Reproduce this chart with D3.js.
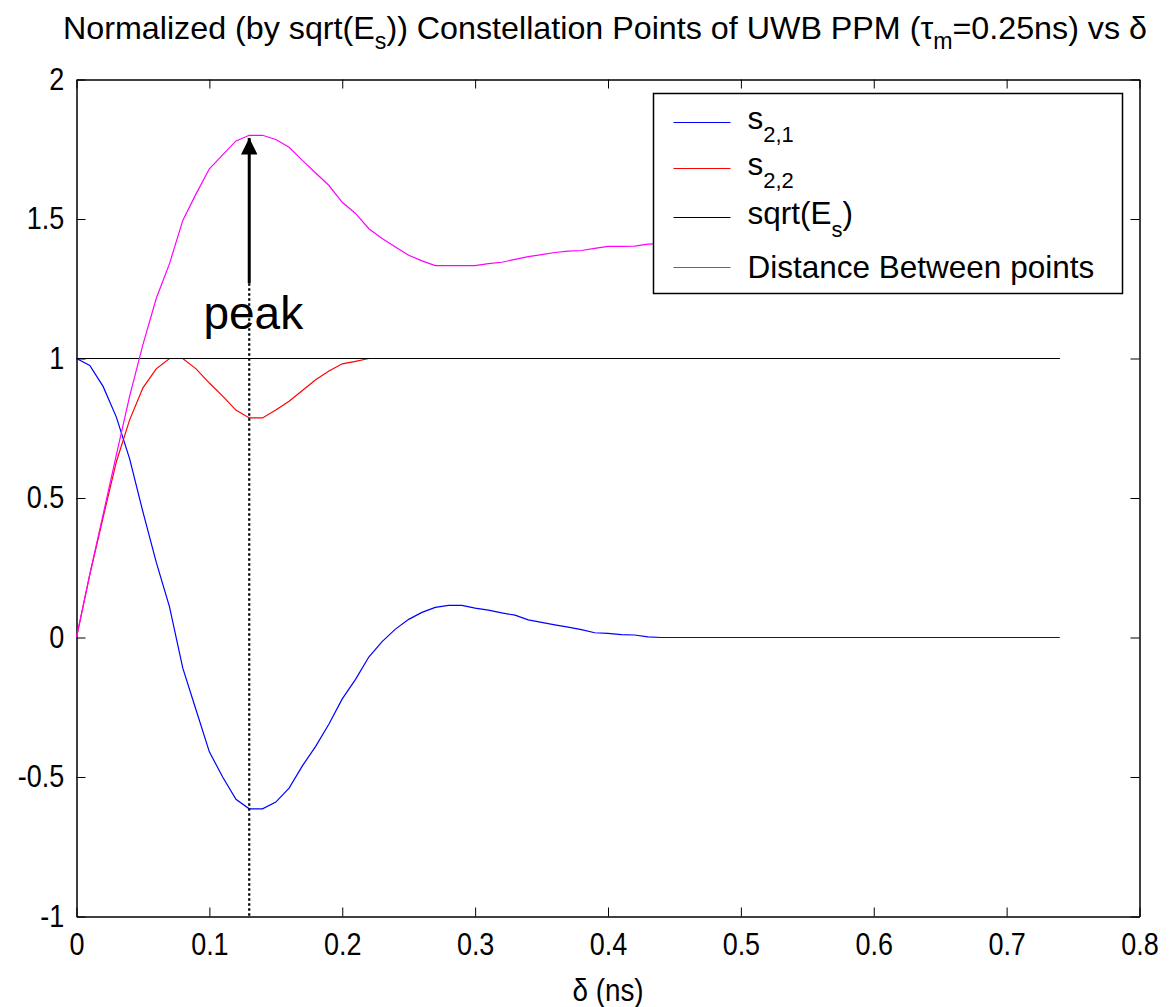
<!DOCTYPE html>
<html>
<head>
<meta charset="utf-8">
<script src="https://cdn.jsdelivr.net/npm/d3@7"></script>
<style>
  body { margin: 0; background: #fff; }
  text { font-family: "Liberation Sans", Arial, Helvetica, sans-serif; fill: #000; }
</style>
</head>
<body>
<div id="chart"></div>
<script>
// delay delta in ns, sampled every 0.01 ns
const delta = [
  0.00, 0.01, 0.02, 0.03, 0.04, 0.05, 0.06, 0.07, 0.08, 0.09,
  0.10, 0.11, 0.12, 0.13, 0.14, 0.15, 0.16, 0.17, 0.18, 0.19,
  0.20, 0.21, 0.22, 0.23, 0.24, 0.25, 0.26, 0.27, 0.28, 0.29,
  0.30, 0.31, 0.32, 0.33, 0.34, 0.35, 0.36, 0.37, 0.38, 0.39,
  0.40, 0.41, 0.42, 0.43, 0.44, 0.45, 0.46, 0.47, 0.48, 0.49,
  0.50, 0.51, 0.52, 0.53, 0.54, 0.55, 0.56, 0.57, 0.58, 0.59,
  0.60, 0.61, 0.62, 0.63, 0.64, 0.65, 0.66, 0.67, 0.68, 0.69,
  0.70, 0.71, 0.72, 0.73, 0.74
];

const s21 = [
  1.0, 0.975, 0.90, 0.79, 0.64, 0.45, 0.27, 0.11, -0.11, -0.26,
  -0.41, -0.50, -0.58, -0.614, -0.614, -0.59, -0.54, -0.46, -0.39, -0.31,
  -0.22, -0.15, -0.07, -0.015, 0.03, 0.065, 0.09, 0.108, 0.115, 0.115,
  0.105, 0.098, 0.088, 0.08, 0.063, 0.054, 0.045, 0.037, 0.028, 0.017,
  0.015, 0.01, 0.009, 0.002, 0, 0, 0, 0, 0, 0,
  0, 0, 0, 0, 0, 0, 0, 0, 0, 0,
  0, 0, 0, 0, 0, 0, 0, 0, 0, 0,
  0, 0, 0, 0, 0
];

const s22 = [
  0, 0.225, 0.43, 0.63, 0.78, 0.895, 0.963, 1.0, 1.0, 0.963,
  0.912, 0.865, 0.815, 0.787, 0.787, 0.815, 0.847, 0.885, 0.924, 0.955,
  0.981, 0.99, 1, 1, 1, 1, 1, 1, 1, 1,
  1, 1, 1, 1, 1, 1, 1, 1, 1, 1,
  1, 1, 1, 1, 1, 1, 1, 1, 1, 1,
  1, 1, 1, 1, 1, 1, 1, 1, 1, 1,
  1, 1, 1, 1, 1, 1, 1, 1, 1, 1,
  1, 1, 1, 1, 1
];

const sqrtEs = [
  1, 1, 1, 1, 1, 1, 1, 1, 1, 1,
  1, 1, 1, 1, 1, 1, 1, 1, 1, 1,
  1, 1, 1, 1, 1, 1, 1, 1, 1, 1,
  1, 1, 1, 1, 1, 1, 1, 1, 1, 1,
  1, 1, 1, 1, 1, 1, 1, 1, 1, 1,
  1, 1, 1, 1, 1, 1, 1, 1, 1, 1,
  1, 1, 1, 1, 1, 1, 1, 1, 1, 1,
  1, 1, 1, 1, 1
];

const distance = [
  0, 0.226, 0.44, 0.655, 0.865, 1.05, 1.215, 1.34, 1.495, 1.59,
  1.68, 1.73, 1.78, 1.80, 1.80, 1.785, 1.757, 1.71, 1.665, 1.62,
  1.56, 1.52, 1.465, 1.43, 1.40, 1.37, 1.35, 1.333, 1.333, 1.333,
  1.333, 1.34, 1.345, 1.355, 1.365, 1.372, 1.38, 1.385, 1.387, 1.395,
  1.402, 1.402, 1.403, 1.41, 1.412, 1.414, 1.414, 1.414, 1.414, 1.414,
  1.414, 1.414, 1.414, 1.414, 1.414, 1.414, 1.414, 1.414, 1.414, 1.414,
  1.414, 1.414, 1.414, 1.414, 1.414, 1.414, 1.414, 1.414, 1.414, 1.414,
  1.414, 1.414, 1.414, 1.414, 1.414
];

const xTicks = [0, 0.1, 0.2, 0.3, 0.4, 0.5, 0.6, 0.7, 0.8];
const yTicks = [-1, -0.5, 0, 0.5, 1, 1.5, 2];

// the marked peak and where the arrow starts
const peakDelta = 0.13;
const peakValue = 1.79;
const arrowStart = 1.27;

const series = [
  { name: "s", sub: "2,1", values: s21, color: "#0000ff" },
  { name: "s", sub: "2,2", values: s22, color: "#ff0000" },
  { name: "sqrt(E", sub: "s", after: ")", values: sqrtEs, color: "#000000" },
  { name: "Distance Between points", values: distance, color: "#ff00ff" }
];

const width = 1172;
const height = 1007;
const margin = { top: 79.5, right: 32.5, bottom: 90.5, left: 76.5 };
const squeeze = 0.87; // reference glyphs are narrow and tall

const x = d3.scaleLinear()
  .domain([0, 0.8])
  .range([margin.left, width - margin.right]);

const y = d3.scaleLinear()
  .domain([-1, 2])
  .range([height - margin.bottom, margin.top]);

const svg = d3.select("#chart")
  .append("svg")
  .attr("width", width)
  .attr("height", height);

// title
const title = svg.append("text")
  .attr("x", 63)
  .attr("y", 39)
  .attr("textLength", 1084)
  .attr("lengthAdjust", "spacingAndGlyphs")
  .style("font-size", "32px");
title.append("tspan").text("Normalized (by sqrt(E");
title.append("tspan").attr("dy", 10).style("font-size", "23px").text("s");
title.append("tspan").attr("dy", -10).text(")) Constellation Points of UWB PPM (\u03c4");
title.append("tspan").attr("dy", 10).style("font-size", "23px").text("m");
title.append("tspan").attr("dy", -10).text("=0.25ns) vs \u03b4");

// axes, ticks pointing inward on all four sides
const fmt = d => String(d);

svg.append("g")
  .attr("transform", `translate(0,${y(-1)})`)
  .call(d3.axisBottom(x).tickValues(xTicks).tickFormat(fmt).tickSizeInner(-9).tickSizeOuter(0).tickPadding(17))
  .call(g => g.selectAll("text")
    .style("font-size", "31px")
    .attr("transform", `scale(${squeeze},1)`));

svg.append("g")
  .attr("transform", `translate(${x(0)},0)`)
  .call(d3.axisLeft(y).tickValues(yTicks).tickFormat(fmt).tickSizeInner(-9).tickSizeOuter(0).tickPadding(14))
  .call(g => g.selectAll("text")
    .style("font-size", "31px")
    .attr("transform", `scale(${squeeze},1)`));

svg.append("g")
  .attr("transform", `translate(0,${y(2)})`)
  .call(d3.axisTop(x).tickValues(xTicks).tickFormat("").tickSizeInner(-9).tickSizeOuter(0));

svg.append("g")
  .attr("transform", `translate(${x(0.8)},0)`)
  .call(d3.axisRight(y).tickValues(yTicks).tickFormat("").tickSizeInner(-9).tickSizeOuter(0));

svg.selectAll(".domain").attr("stroke", "#000").attr("stroke-width", 1.5);
svg.selectAll(".tick line").attr("stroke", "#000");

// x label
svg.append("text")
  .attr("transform", `translate(${x(0.4)},1001) scale(${squeeze},1)`)
  .attr("text-anchor", "middle")
  .style("font-size", "32px")
  .text("\u03b4 (ns)");

// series
const line = d3.line()
  .x((d, i) => x(delta[i]))
  .y(d => y(d));

svg.append("g")
  .selectAll("path")
  .data(series)
  .enter()
  .append("path")
  .attr("d", d => line(d.values))
  .attr("fill", "none")
  .attr("stroke", d => d.color)
  .attr("stroke-width", 1.2);

// peak marker: dotted drop line and arrow
svg.append("line")
  .attr("x1", x(peakDelta)).attr("x2", x(peakDelta))
  .attr("y1", y(arrowStart)).attr("y2", y(-1))
  .attr("stroke", "#000")
  .attr("stroke-width", 2.2)
  .attr("stroke-dasharray", "2.5,2.5");

svg.append("defs")
  .append("marker")
  .attr("id", "head")
  .attr("viewBox", "0 0 10 10")
  .attr("refX", 10).attr("refY", 5)
  .attr("markerWidth", 5.5).attr("markerHeight", 5.5)
  .attr("markerUnits", "strokeWidth")
  .attr("orient", "auto")
  .append("path")
  .attr("d", "M0,0 L10,5 L0,10 Z")
  .attr("fill", "#000");

svg.append("line")
  .attr("x1", x(peakDelta)).attr("x2", x(peakDelta))
  .attr("y1", y(arrowStart)).attr("y2", y(peakValue))
  .attr("stroke", "#000")
  .attr("stroke-width", 3)
  .attr("marker-end", "url(#head)");

svg.append("text")
  .attr("x", x(0.0955))
  .attr("y", y(1.105))
  .style("font-size", "46px")
  .text("peak");

// legend
const legend = svg.append("g").attr("transform", "translate(653.5,93.5)");

legend.append("rect")
  .attr("width", 469)
  .attr("height", 200)
  .attr("fill", "#fff")
  .attr("stroke", "#000")
  .attr("stroke-width", 1.5);

const rowY = [29, 75, 124, 174];

const item = legend.selectAll("g.item")
  .data(series)
  .enter()
  .append("g")
  .attr("class", "item")
  .attr("transform", (d, i) => `translate(0,${rowY[i]})`);

item.append("line")
  .attr("x1", 20).attr("x2", 77)
  .attr("stroke", d => d.color)
  .attr("stroke-width", 1.2);

item.each(function(d) {
  const t = d3.select(this).append("text")
    .attr("x", 94)
    .attr("y", d.sub ? 6 : 10)
    .style("font-size", "31.5px");
  t.append("tspan").text(d.name);
  if (d.sub) {
    t.append("tspan").attr("dy", 13).style("font-size", "22px").text(d.sub);
    if (d.after) t.append("tspan").attr("dy", -13).text(d.after);
  }
});
</script>
</body>
</html>
